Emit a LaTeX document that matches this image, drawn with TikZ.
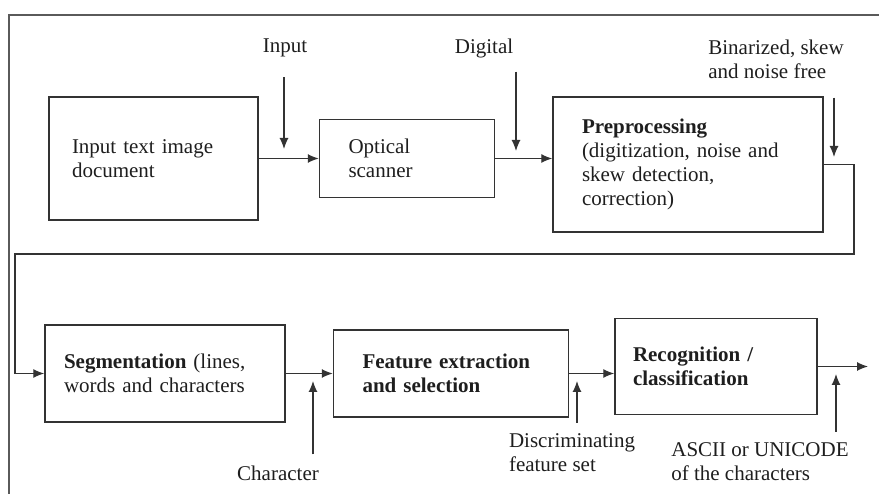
\documentclass[tikz,border=0pt]{standalone}
\usepackage{fontspec}
\setmainfont{Liberation Serif}
\usepackage{xcolor}
\usepackage{tikz}
\usetikzlibrary{
    arrows.meta,
    positioning
}
\definecolor{ocrline}{HTML}{333333}
\definecolor{ocrgray}{HTML}{5A5A5A}
\definecolor{ocrtext}{HTML}{1E1E1E}
\tikzset{
    % Process box
    ocrbox/.style={
        rectangle,
        draw=ocrline,
        line width=1.5pt,
        text=ocrtext,
        font=\fontsize{21}{24}\selectfont,
        align=left,
        inner ysep=0pt
    },
    % Side label
    ocrlabel/.style={
        text=ocrtext,
        font=\fontsize{21}{24}\selectfont,
        align=left,
        inner sep=2pt
    },
    % Arrow style
    ocrarrow/.style={
        ->,
        >={Latex[length=11pt,width=9pt]},
        line width=1.2pt,
        color=ocrline
    },
    % Outer frame
    outerframe/.style={
        draw=ocrgray,
        line width=1.5pt
    }
}
\begin{document}
\begin{tikzpicture}[x=1pt,y=-1pt]
    \useasboundingbox (0,0) rectangle (879,494);
    \draw[outerframe] (879,15) -| (9,494);

    % first row
    \node[ocrbox, text width=163pt, inner xsep=23pt, minimum height=123pt] (doc) at (153.5,158.5) {Input text image\\document};
    \node[ocrbox, right=60pt of doc, text width=117pt, inner xsep=29pt, minimum height=78pt] (scanner) {Optical\\scanner};
    \node[ocrbox, right=57pt of scanner, yshift=-6pt, text width=212pt, inner xsep=29pt, minimum height=135pt] (prep) {\textbf{Preprocessing}\\(digitization, noise and\\skew detection,\\correction)};

    % second row
    \node[ocrbox, text width=202pt, inner xsep=19pt, minimum height=97pt] (seg) at (165,373.5) {\textbf{Segmentation} (lines,\\words and characters};
    \node[ocrbox, right=47pt of seg, text width=177pt, inner xsep=29pt, minimum height=87pt, font=\fontsize{21}{24}\selectfont\bfseries] (feat) {Feature extraction\\and selection};
    \node[ocrbox, right=45pt of feat, yshift=7pt, text width=166pt, inner xsep=18pt, minimum height=96pt, font=\fontsize{21}{24}\selectfont\bfseries] (recog) {Recognition /\\classification};

    % labels
    \node[ocrlabel] (lbl-input) at (285,48) {Input};
    \node[ocrlabel] (lbl-digital) at (484,48) {Digital};
    \node[ocrlabel] (lbl-binarized) at (776,59) {Binarized, skew\\and noise free};
    \node[ocrlabel] (lbl-character) at (278,473) {Character};
    \node[ocrlabel] (lbl-discrim) at (572,453) {Discriminating\\feature set};
    \node[ocrlabel] (lbl-ascii) at (760,462) {ASCII or UNICODE\\of the characters};

    \coordinate (tip-input) at (284,149);
    \coordinate (tip-digital) at (516,151);
    \coordinate (tip-binarized) at (834,157);
    \coordinate (tip-character) at (313,381);
    \coordinate (tip-discrim) at (577,381);
    \coordinate (tip-ascii) at (836,374);
    \coordinate (loop-r) at (854,254);
    \coordinate (loop-l) at (15,254);
    \coordinate (out) at (868,366.5);

    % flow
    \draw[ocrarrow] (doc) -- (scanner);
    \draw[ocrarrow] (scanner.east) -- (scanner.east -| prep.west);
    \draw[ocrarrow] (prep.east) -| (loop-r) -- (loop-l) |- (seg.west);
    \draw[ocrarrow] (seg) -- (feat);
    \draw[ocrarrow] (feat.east) -- (feat.east -| recog.west);
    \draw[ocrarrow] (recog.east) -- (out);

    % side inputs
    \draw[ocrarrow, shorten <=18pt] (lbl-input.south -| tip-input) -- (tip-input);
    \draw[ocrarrow, shorten <=12pt] (lbl-digital.south -| tip-digital) -- (tip-digital);
    \draw[ocrarrow, shorten <=17pt] (lbl-binarized.south -| tip-binarized) -- (tip-binarized);
    \draw[ocrarrow, shorten <=9pt] (lbl-character.north -| tip-character) -- (tip-character);
    \draw[ocrarrow, shorten <=9pt] (lbl-discrim.north -| tip-discrim) -- (tip-discrim);
    \draw[ocrarrow, shorten <=9pt] (lbl-ascii.north -| tip-ascii) -- (tip-ascii);
\end{tikzpicture}
\end{document}
